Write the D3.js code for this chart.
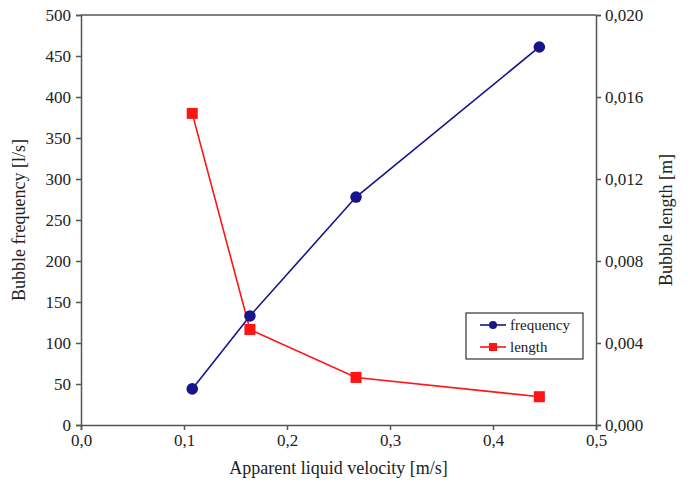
<!DOCTYPE html>
<html>
<head>
<meta charset="utf-8">
<script src="https://cdn.jsdelivr.net/npm/d3@7"></script>
<style>
  body { margin: 0; background: #fff; }
</style>
</head>
<body>
<script>
var velocity = [0.108, 0.164, 0.267, 0.445];
var frequency = [44, 133, 278, 461];
var bubbleLength = [0.0152, 0.00466, 0.00232, 0.00138];
var xTicks = [0, 0.1, 0.2, 0.3, 0.4, 0.5];
var yLeftTicks = [0, 50, 100, 150, 200, 250, 300, 350, 400, 450, 500];
var yRightTicks = [0, 0.004, 0.008, 0.012, 0.016, 0.020];

var serif = "Liberation Serif";
var outerWidth = 691;
var outerHeight = 483;
var margin = { top: 15, right: 95, bottom: 58, left: 81 };
var width = outerWidth - margin.left - margin.right;
var height = outerHeight - margin.top - margin.bottom;
var axisColor = "#555";
var comma = function (f) { return function (d) { return d3.format(f)(d).replace(".", ","); }; };

var svg = d3.select("body").append("svg")
  .attr("width", outerWidth)
  .attr("height", outerHeight);

var g = svg.append("g")
  .attr("transform", "translate(" + margin.left + "," + margin.top + ")");

var xScale = d3.scaleLinear().domain([0, 0.5]).range([0, width]);
var yLeft = d3.scaleLinear().domain([0, 500]).range([height, 0]);
var yRight = d3.scaleLinear().domain([0, 0.02]).range([height, 0]);

// frame top line
g.append("line")
  .attr("x1", 0).attr("x2", width).attr("y1", 0).attr("y2", 0)
  .attr("stroke", axisColor).attr("stroke-width", 1.5);

function styleAxis(sel) {
  sel.selectAll("path, line").attr("stroke", axisColor).attr("stroke-width", 1.5);
  sel.selectAll("text").attr("fill", "#222")
    .style("font-family", serif).style("font-size", "17px");
}

g.append("g")
  .attr("transform", "translate(0," + height + ")")
  .call(d3.axisBottom(xScale).tickValues(xTicks).tickFormat(comma(".1f")).tickSizeOuter(0).tickSize(5).tickPadding(4))
  .call(styleAxis);

g.append("g")
  .call(d3.axisLeft(yLeft).tickValues(yLeftTicks).tickSizeOuter(0).tickSize(5).tickPadding(5))
  .call(styleAxis);

g.append("g")
  .attr("transform", "translate(" + width + ",0)")
  .call(d3.axisRight(yRight).tickValues(yRightTicks).tickFormat(comma(".3f")).tickSizeOuter(0).tickSize(5).tickPadding(4))
  .call(styleAxis);

g.selectAll(".domain").attr("fill", "none");

// axis titles
function title(sel) {
  sel.attr("text-anchor", "middle").attr("fill", "#222")
    .style("font-family", serif).style("font-size", "18px");
}
g.append("text")
  .attr("x", width / 2).attr("y", height + 49)
  .call(title)
  .text("Apparent liquid velocity [m/s]");

g.append("text")
  .attr("transform", "translate(" + (-56) + "," + (height / 2) + ") rotate(-90)")
  .call(title)
  .text("Bubble frequency [l/s]");

g.append("text")
  .attr("transform", "translate(" + (width + 76) + "," + (height / 2) + ") rotate(-90)")
  .call(title)
  .text("Bubble length [m]");

var blue = "#16168a";
var red = "#ff1414";

var freqData = velocity.map(function (v, i) { return [v, frequency[i]]; });
var lenData = velocity.map(function (v, i) { return [v, bubbleLength[i]]; });

var lineFreq = d3.line().x(function (d) { return xScale(d[0]); }).y(function (d) { return yLeft(d[1]); });
var lineLen = d3.line().x(function (d) { return xScale(d[0]); }).y(function (d) { return yRight(d[1]); });

g.append("path").attr("d", lineFreq(freqData))
  .attr("fill", "none").attr("stroke", blue).attr("stroke-width", 1.6);
g.append("path").attr("d", lineLen(lenData))
  .attr("fill", "none").attr("stroke", red).attr("stroke-width", 1.6);

g.selectAll(".pt-freq").data(freqData).enter().append("circle")
  .attr("class", "pt-freq")
  .attr("cx", function (d) { return xScale(d[0]); })
  .attr("cy", function (d) { return yLeft(d[1]); })
  .attr("r", 5.8).attr("fill", blue);

g.selectAll(".pt-len").data(lenData).enter().append("rect")
  .attr("class", "pt-len")
  .attr("x", function (d) { return xScale(d[0]) - 5.5; })
  .attr("y", function (d) { return yRight(d[1]) - 5.5; })
  .attr("width", 11).attr("height", 11).attr("fill", red);

// legend
var legend = svg.append("g").attr("transform", "translate(466,313)");
legend.append("rect")
  .attr("width", 117).attr("height", 46)
  .attr("fill", "#fff").attr("stroke", "#333").attr("stroke-width", 1.2);

var items = [
  { label: "frequency", color: blue, shape: "circle" },
  { label: "length", color: red, shape: "square" }
];
items.forEach(function (it, i) {
  var y = 12 + i * 22;
  legend.append("line").attr("x1", 14).attr("x2", 40).attr("y1", y).attr("y2", y)
    .attr("stroke", it.color).attr("stroke-width", 1.6);
  if (it.shape === "circle") {
    legend.append("circle").attr("cx", 27).attr("cy", y).attr("r", 4).attr("fill", it.color);
  } else {
    legend.append("rect").attr("x", 23).attr("y", y - 4).attr("width", 8).attr("height", 8).attr("fill", it.color);
  }
  legend.append("text").attr("x", 44).attr("y", y + 5)
    .attr("fill", "#222")
    .style("font-family", serif).style("font-size", "15px")
    .text(it.label);
});
</script>
</body>
</html>
